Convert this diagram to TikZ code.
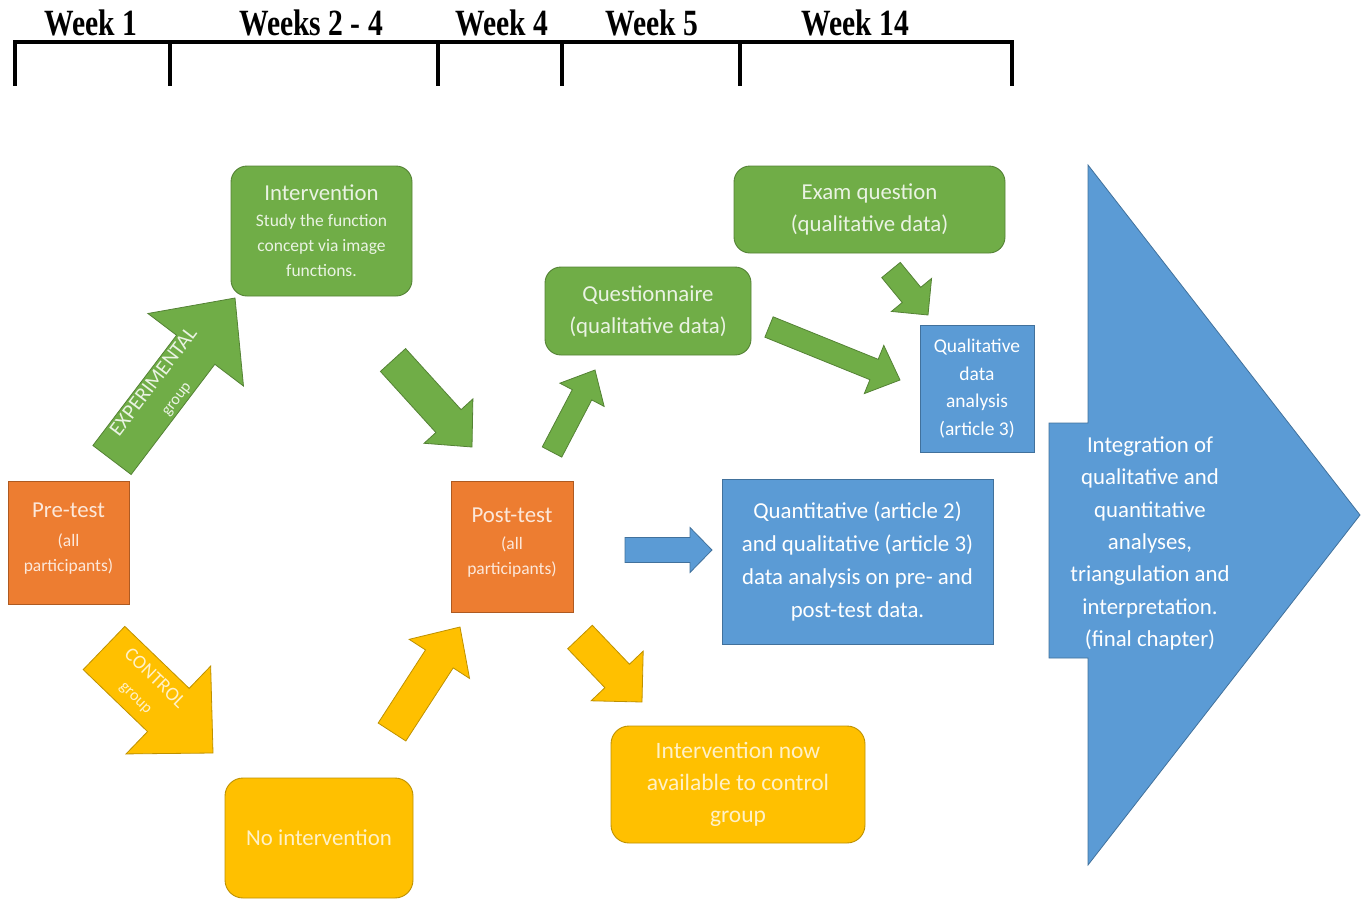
\documentclass[tikz,border=0pt]{standalone}
\usepackage{fontspec}
\setmainfont{Carlito}
\newfontfamily\weekfont[FakeStretch=0.8]{Liberation Serif}
\usetikzlibrary{calc}
\definecolor{ofgreen}{RGB}{112,173,71}
\definecolor{ofgreenline}{RGB}{84,130,53}
\definecolor{oforange}{RGB}{237,125,49}
\definecolor{oforangeline}{RGB}{174,90,33}
\definecolor{ofyellow}{RGB}{255,192,0}
\definecolor{ofyellowline}{RGB}{190,145,0}
\definecolor{ofblue}{RGB}{91,155,213}
\definecolor{ofblueline}{RGB}{65,113,156}

% block arrow: style, tail, tip, half shaft, half head, head length
\newcommand{\fatarrow}[6]{%
  \coordinate (fa-neck) at ($(#3)!#6!(#2)$);
  \draw[#1] ($(#2)!#4!90:(#3)$) -- ($(fa-neck)!#4!90:(#3)$) -- ($(fa-neck)!#5!90:(#3)$) -- (#3)
    -- ($(fa-neck)!#5!-90:(#3)$) -- ($(fa-neck)!#4!-90:(#3)$) -- ($(#2)!#4!-90:(#3)$) -- cycle;
}

\begin{document}
\begin{tikzpicture}[x=1pt, y=-1pt,
  box/.style={inner sep=0pt, align=center, line width=0.9pt, font=\fontsize{22.8}{32}\selectfont},
  greenbox/.style={box, fill=ofgreen, draw=ofgreenline, rounded corners=16pt, text=white!85!ofgreen},
  orangebox/.style={box, fill=oforange, draw=oforangeline, text=white!82!oforange},
  yellowbox/.style={box, fill=ofyellow, draw=ofyellowline, rounded corners=18pt, text=white!78!ofyellow},
  bluebox/.style={box, fill=ofblue, draw=ofblueline, text=white},
  greenarrow/.style={fill=ofgreen, draw=ofgreenline, line width=0.8pt},
  yellowarrow/.style={fill=ofyellow, draw=ofyellowline, line width=0.8pt},
  bluearrow/.style={fill=ofblue, draw=ofblueline, line width=0.8pt},
  weeklabel/.style={anchor=base, font=\weekfont\bfseries\fontsize{37}{40}\selectfont},
  smalltext/.style={font=\fontsize{17.5}{25}\selectfont}]
\useasboundingbox (0,0) rectangle (1366,900);
% Timeline
\draw[line width=4pt] (13,42) -- (1014,42);
\foreach \x in {15,170,438,562,740,1012}
  \draw[line width=3.5pt] (\x,42) -- (\x,86);
\foreach \x/\t/\n in {91/Week 1/wkA, 311/Weeks 2 - 4/wkB, 502/Week 4/wkC, 652/Week 5/wkD, 855/Week 14/wkE}
  \node[weeklabel] (\n) at (\x,35) {\t};
% Boxes
\node[greenbox, smalltext, minimum width=181pt, minimum height=130pt] (intervention) at (321.5,231)
  {{\fontsize{22.8}{27}\selectfont Intervention}\\[1pt]Study the function\\concept via image\\functions.};
\node[greenbox, minimum width=271pt, minimum height=87pt] (exam) at (869.5,209.5)
  {Exam question\\(qualitative data)};
\node[greenbox, minimum width=206pt, minimum height=88pt] (questionnaire) at (648,311)
  {Questionnaire\\(qualitative data)};
\node[bluebox, minimum width=114pt, minimum height=127pt, font=\fontsize{19.5}{27.5}\selectfont] (qualAnalysis) at (977,388.5)
  {Qualitative\\data\\analysis\\(article 3)};
\node[orangebox, smalltext, minimum width=121pt, minimum height=123pt] (pretest) at (68.5,542.5)
  {{\fontsize{22.8}{27}\selectfont Pre-test}\\[4pt](all\\participants)\\[-14pt]};
\node[orangebox, smalltext, minimum width=122pt, minimum height=131pt] (posttest) at (512,546.5)
  {{\fontsize{22.8}{27}\selectfont Post-test}\\[2pt](all\\participants)\\[-14pt]};
\node[bluebox, minimum width=271pt, minimum height=165pt, font=\fontsize{22.8}{33}\selectfont] (quantAnalysis) at (857.5,561.5)
  {Quantitative (article 2)\\and qualitative (article 3)\\data analysis on pre- and\\post-test data.};
\node[yellowbox, minimum width=188pt, minimum height=120pt] (noIntervention) at (319,838)
  {No intervention};
\node[yellowbox, minimum width=254pt, minimum height=117pt, font=\fontsize{23.5}{32}\selectfont] (availNow) at (738,784.5)
  {Intervention now\\available to control\\group};
% Final integration arrow
\draw[bluearrow] (1049,423) -- (1088,423) -- (1088,165) -- (1360,515) -- (1088,865) -- (1088,658) -- (1049,658) -- cycle;
\node[align=center, text=white, font=\fontsize{22.8}{32.3}\selectfont] (integration) at (1150,543.5)
  {Integration of\\qualitative and\\quantitative\\analyses,\\triangulation and\\interpretation.\\(final chapter)};
% Arrow ends
\coordinate (expTail) at (112,460);  \coordinate (expTip) at (235,298);
\coordinate (intTail) at (393,360);  \coordinate (intTip) at (472,447);
\coordinate (pqTail) at (552,452);   \coordinate (pqTip) at (595,370);
\coordinate (qqTail) at (769,327);   \coordinate (qqTip) at (900,380);
\coordinate (eqTail) at (891,270);   \coordinate (eqTip) at (928,315);
\coordinate (ctrlTail) at (104,648); \coordinate (ctrlTip) at (213,753);
\coordinate (npTail) at (392,732);   \coordinate (npTip) at (460,627);
\coordinate (paTail) at (580,637);   \coordinate (paTip) at (642,702);
\coordinate (ptTail) at (625,550);   \coordinate (ptTip) at (712,550);
% Block arrows
\fatarrow{greenarrow}{expTail}{expTip}{24pt}{60pt}{65pt}
\fatarrow{greenarrow}{intTail}{intTip}{17pt}{33pt}{35pt}
\fatarrow{greenarrow}{pqTail}{pqTip}{11pt}{25pt}{28pt}
\fatarrow{greenarrow}{qqTail}{qqTip}{11pt}{26pt}{28pt}
\fatarrow{greenarrow}{eqTail}{eqTip}{12pt}{26pt}{26pt}
\fatarrow{yellowarrow}{ctrlTail}{ctrlTip}{30pt}{61pt}{62pt}
\fatarrow{yellowarrow}{npTail}{npTip}{16.5pt}{36pt}{38pt}
\fatarrow{yellowarrow}{paTail}{paTip}{17pt}{36pt}{36pt}
\fatarrow{bluearrow}{ptTail}{ptTip}{12.5pt}{22.5pt}{22pt}
% Group labels
\path (expTail) -- (expTip) node[pos=0.43, sloped, align=center, text=white!85!ofgreen,
  font=\fontsize{21}{27}\selectfont] (expLabel) {EXPERIMENTAL\\{\fontsize{16}{20}\selectfont group}};
\path (ctrlTail) -- (ctrlTip) node[pos=0.38, sloped, align=center, text=white!78!ofyellow,
  font=\fontsize{19.5}{26}\selectfont] (ctrlLabel) {CONTROL\\{\fontsize{16}{20}\selectfont group}};
\end{tikzpicture}
\end{document}
